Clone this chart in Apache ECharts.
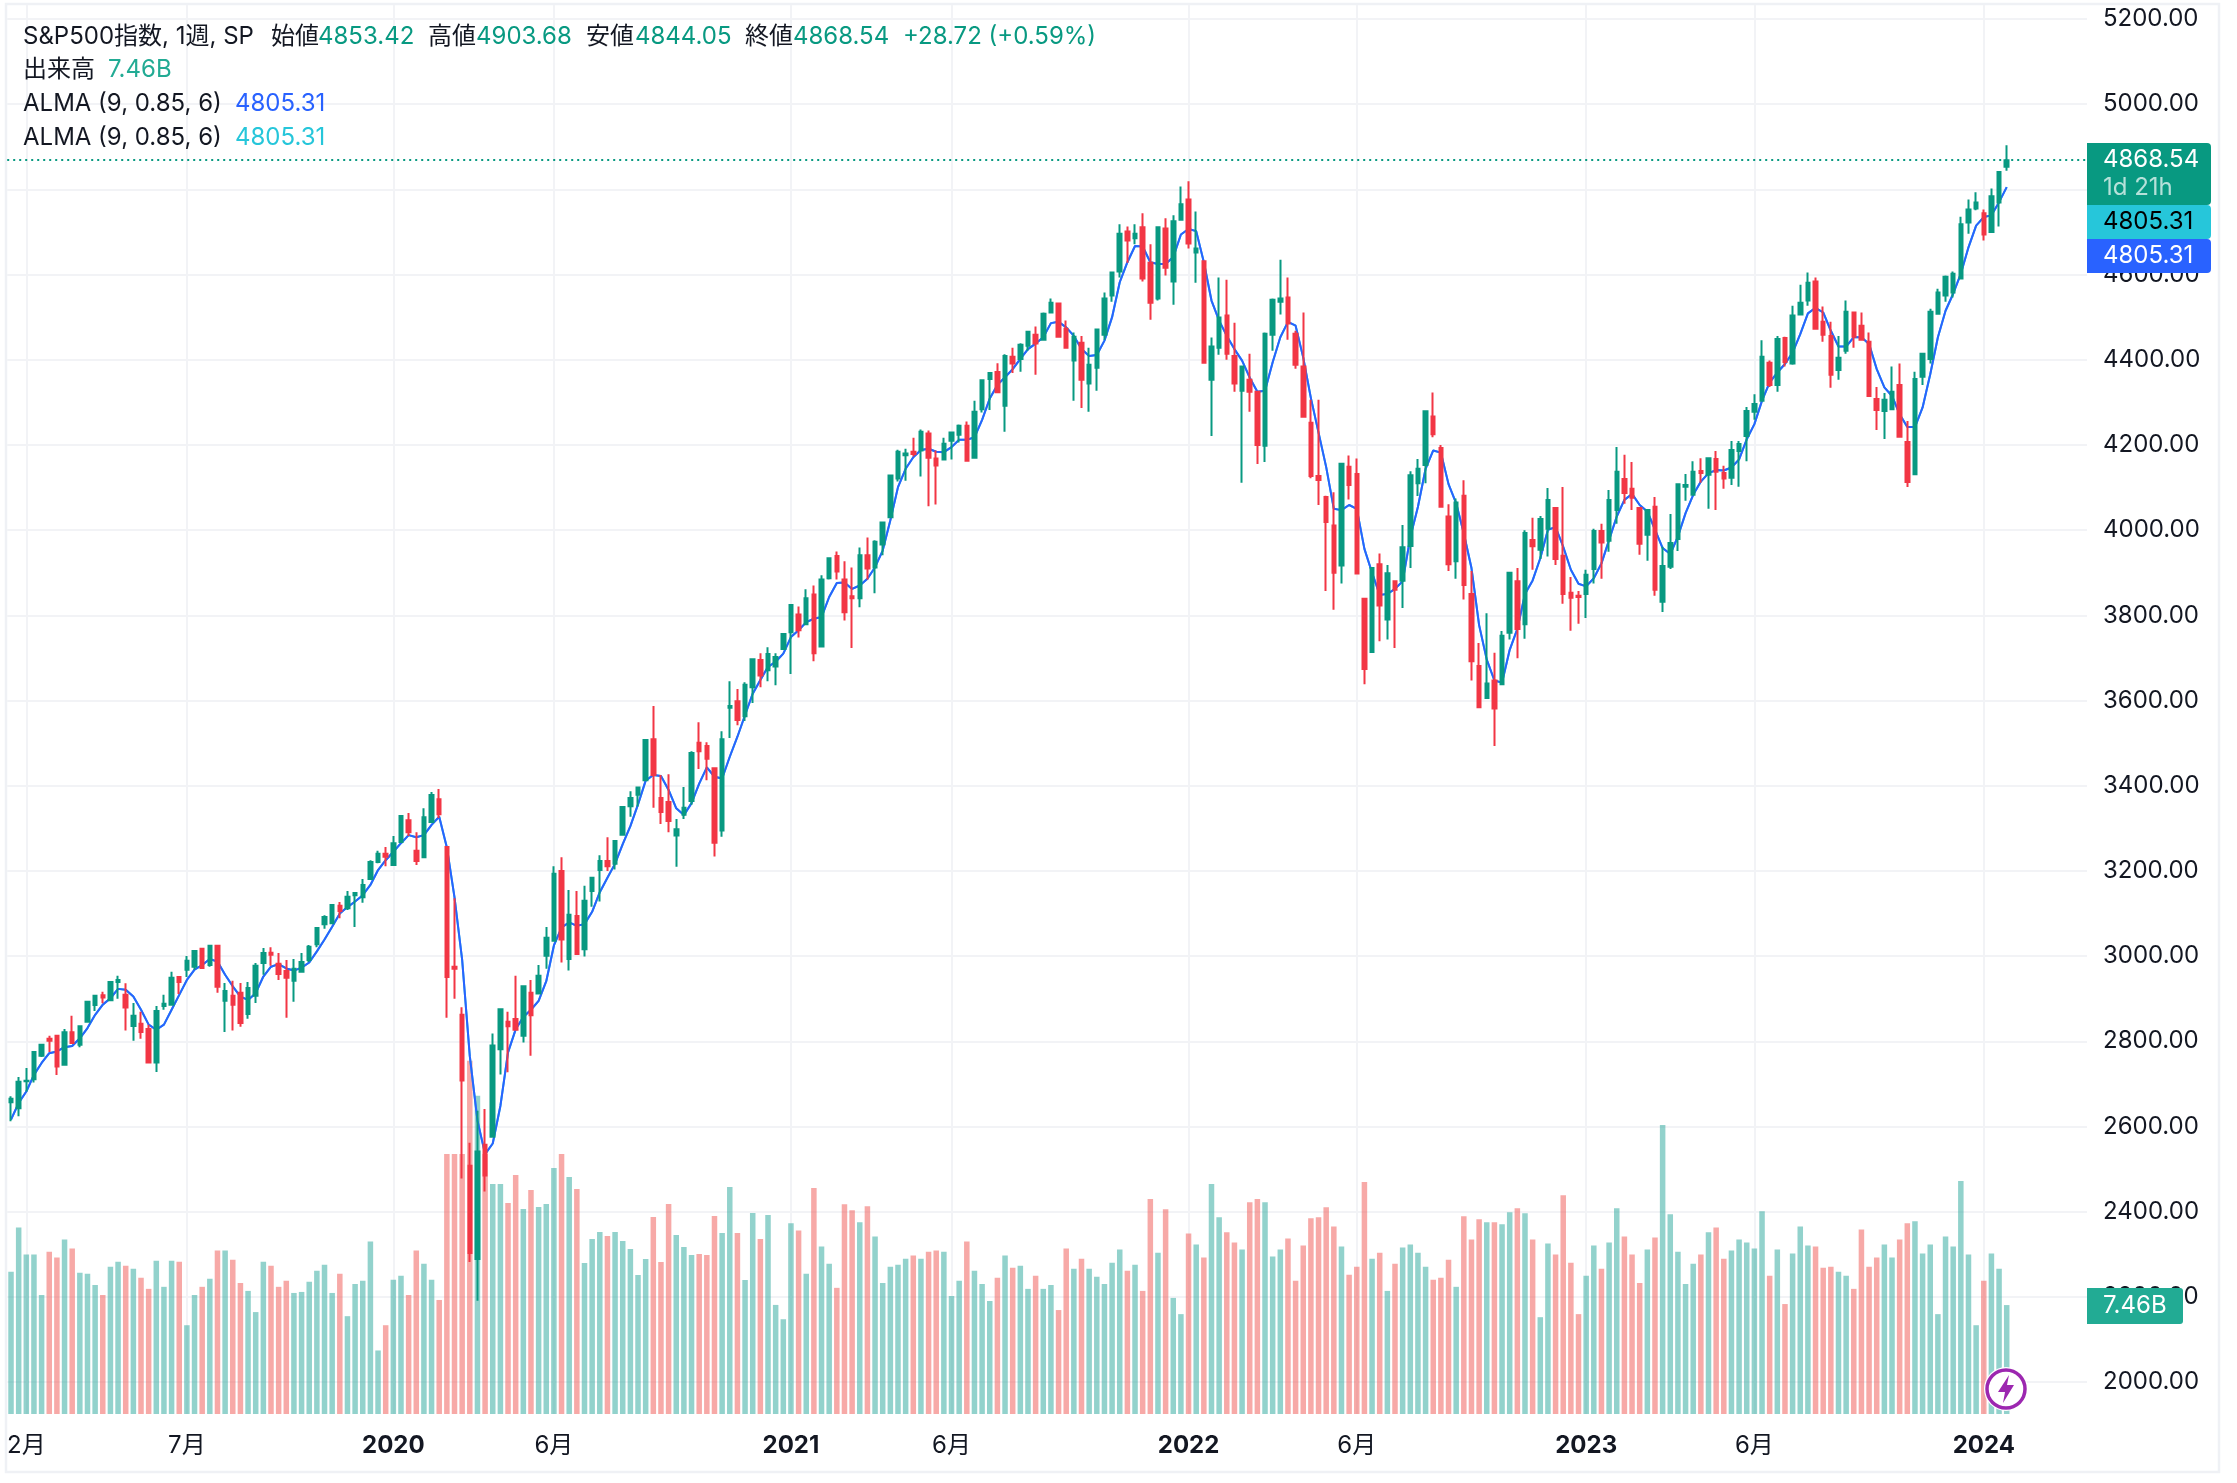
<!DOCTYPE html>
<html>
<head>
<meta charset="utf-8">
<title>S&P500</title>
<script src="https://cdn.jsdelivr.net/npm/echarts@6/dist/echarts.min.js"></script>
<style>
  html, body { margin: 0; padding: 0; background: #fff; }
  #main { width: 2237px; height: 1483px; }
</style>
</head>
<body>
<div id="main"></div>
<script>
// weekly bars, first week 2019-01-21, last week 2024-01-22
var opens = [2657,2643,2706,2711,2766,2806,2813,2745,2821,2792,2846,2885,2908,2896,2939,2909,2836,2841,2829,2750,
  2883,2886,2951,2968,2975,3017,2979,3024,2895,2907,2914,2864,2907,2984,3008,2982,2965,2942,2963,2991,
  3028,3075,3077,3118,3112,3143,3138,3181,3221,3240,3214,3268,3319,3247,3232,3315,3368,3256,2975,2862,
  2508,2289,2557,2576,2781,2846,2852,2813,2914,2912,3001,3036,3200,2993,3094,3016,3153,3202,3223,3217,
  3285,3352,3379,3413,3509,3371,3362,3283,3332,3364,3501,3493,3441,3295,3583,3598,3563,3631,3695,3671,
  3680,3721,3760,3802,3779,3849,3727,3887,3939,3884,3845,3840,3941,3912,3966,4030,4121,4176,4184,4187,
  4227,4168,4166,4210,4224,4245,4170,4284,4355,4371,4292,4407,4402,4433,4459,4447,4511,4532,4473,4398,
  4440,4344,4381,4459,4551,4607,4701,4685,4711,4628,4544,4708,4584,4729,4776,4652,4631,4353,4428,4504,
  4409,4327,4353,4325,4198,4459,4536,4546,4461,4384,4252,4127,4078,4011,3917,4149,4132,3839,3714,3920,
  3790,3880,3881,3963,4110,4153,4267,4193,4032,3927,4081,3850,3681,3606,3647,3638,3759,3880,3779,3977,
  3954,4003,4052,3940,3853,3846,3850,3909,3998,3975,4047,4120,4097,4052,3989,4055,3832,3914,3979,4102,
  4083,4139,4130,4167,4134,4123,4186,4221,4278,4304,4393,4341,4451,4391,4506,4539,4584,4489,4456,4376,
  4421,4511,4480,4442,4308,4280,4284,4341,4207,4131,4360,4402,4508,4551,4558,4591,4722,4755,4744,4700,
  4769,4853.42];
var highs = [2671,2716,2737,2775,2794,2813,2815,2829,2860,2836,2893,2909,2916,2939,2954,2936,2890,2869,2839,2883,
  2909,2963,2953,3000,3012,3017,3026,3024,2937,2942,2937,2939,2984,3019,3021,3007,2991,2993,3007,3026,
  3066,3096,3120,3127,3153,3148,3181,3225,3247,3256,3282,3329,3336,3291,3347,3385,3392,3256,3136,2880,
  2562,2637,2641,2818,2875,2869,2954,2930,2944,2979,3068,3211,3232,3155,3153,3165,3186,3237,3279,3270,
  3351,3387,3397,3507,3587,3425,3427,3322,3397,3481,3549,3502,3441,3528,3645,3627,3643,3697,3711,3725,
  3711,3757,3826,3821,3861,3870,3894,3936,3950,3927,3912,3959,3983,3976,4018,4128,4189,4191,4217,4236,
  4234,4187,4217,4231,4248,4255,4304,4354,4371,4392,4413,4428,4439,4466,4478,4511,4544,4532,4492,4464,
  4456,4428,4473,4558,4607,4718,4713,4718,4744,4671,4713,4732,4739,4807,4819,4748,4631,4452,4593,4588,
  4487,4384,4414,4325,4464,4544,4635,4593,4468,4511,4306,4306,4081,4089,4156,4175,4168,3839,3913,3945,
  3918,3880,4012,4138,4167,4279,4323,4200,4061,4074,4117,3904,3735,3805,3712,3763,3902,3911,4000,4029,
  4033,4099,4052,4101,3890,3857,3907,4003,4015,4094,4195,4177,4160,4052,4047,4078,3961,4038,4110,4132,
  4162,4169,4169,4186,4151,4209,4209,4289,4319,4446,4398,4456,4454,4527,4576,4605,4593,4525,4489,4456,
  4539,4511,4511,4464,4336,4322,4384,4391,4256,4372,4416,4520,4567,4598,4607,4736,4776,4793,4753,4802,
  4841,4903.68];
var lows = [2612,2624,2682,2703,2763,2775,2721,2745,2796,2786,2846,2871,2889,2896,2900,2825,2801,2806,2750,2728,
  2874,2886,2911,2951,2968,2972,2975,2914,2822,2825,2834,2853,2890,2956,2977,2944,2855,2893,2963,2986,
  3021,3064,3075,3089,3108,3068,3125,3181,3218,3211,3214,3268,3282,3214,3232,3315,3324,2855,2900,2478,
  2282,2191,2447,2576,2722,2727,2827,2797,2766,2912,2970,3036,2985,2966,3004,2999,3116,3128,3200,3203,
  3285,3327,3351,3411,3348,3310,3291,3210,3322,3355,3439,3413,3234,3280,3512,3542,3552,3594,3631,3645,
  3636,3721,3662,3748,3779,3692,3725,3884,3884,3788,3723,3819,3884,3852,3941,4030,4114,4116,4173,4126,
  4056,4060,4166,4166,4206,4163,4170,4276,4282,4324,4231,4369,4372,4421,4365,4447,4511,4454,4426,4304,
  4287,4278,4327,4447,4536,4593,4628,4671,4584,4494,4539,4598,4529,4729,4661,4581,4393,4221,4412,4400,
  4325,4111,4278,4155,4160,4421,4506,4447,4379,4266,4122,4059,3857,3813,3875,4072,3898,3638,3714,3739,
  3743,3723,3817,3911,4080,4110,4218,4055,3904,3886,3837,3647,3584,3605,3493,3638,3743,3699,3745,3907,
  3932,3938,3918,3827,3764,3780,3794,3875,3886,3949,4015,4062,4047,3942,3928,3846,3808,3909,3951,4069,
  4083,4111,4050,4047,4097,4106,4102,4162,4259,4304,4336,4325,4384,4388,4504,4527,4473,4442,4334,4353,
  4414,4428,4447,4315,4235,4214,4284,4219,4101,4129,4341,4391,4508,4536,4546,4591,4696,4751,4680,4699,
  4713,4844.05];
var closes = [2665,2705,2707,2775,2792,2801,2741,2821,2796,2835,2893,2907,2903,2939,2944,2879,2860,2822,2750,2871,
  2888,2949,2939,2989,3012,2972,3024,2928,2918,2886,2843,2925,2977,3007,3003,2958,2949,2970,2986,3022,
  3066,3092,3120,3106,3139,3148,3167,3221,3240,3233,3265,3329,3291,3223,3326,3378,3333,2951,2970,2708,
  2303,2541,2485,2790,2875,2835,2827,2929,2861,2954,3043,3193,3039,3097,3005,3130,3184,3223,3211,3270,
  3350,3371,3396,3507,3425,3338,3317,3298,3348,3477,3481,3463,3266,3509,3587,3554,3637,3697,3659,3709,
  3702,3756,3824,3765,3840,3711,3884,3934,3903,3807,3840,3941,3910,3973,4018,4128,4184,4180,4179,4231,
  4170,4152,4203,4229,4245,4163,4278,4352,4369,4324,4409,4391,4435,4466,4438,4508,4534,4454,4428,4454,
  4353,4388,4471,4544,4605,4696,4680,4696,4591,4534,4711,4616,4725,4765,4673,4661,4393,4431,4499,4414,
  4344,4384,4325,4200,4461,4541,4544,4485,4388,4266,4127,4118,4019,3900,4156,4106,3898,3674,3911,3823,
  3899,3860,3960,4129,4144,4279,4225,4055,3920,4065,3871,3692,3584,3640,3581,3752,3900,3768,3993,3962,
  4026,4071,3932,3850,3841,3843,3895,3998,3971,4071,4137,4087,4076,3968,4047,3860,3916,3970,4108,4106,
  4137,4134,4169,4137,4121,4188,4202,4280,4296,4407,4341,4449,4395,4504,4534,4581,4473,4459,4365,4405,
  4513,4454,4447,4315,4282,4306,4325,4219,4113,4355,4414,4513,4558,4595,4602,4718,4753,4769,4694,4784,
  4841,4868.54];
// weekly volume in billions
var volumes = [9.74,12.78,10.92,10.92,8.15,11.12,10.71,11.95,11.33,9.67,9.6,8.84,8.15,10.09,10.43,10.16,9.95,9.33,8.57,10.5,
  8.71,10.5,10.43,6.08,8.15,8.71,9.26,11.19,11.19,10.57,8.98,8.43,6.98,10.43,10.16,8.71,9.12,8.29,8.36,9.05,
  9.81,10.23,8.29,9.6,6.7,8.91,9.12,11.81,4.35,6.08,9.19,9.47,8.15,11.19,10.29,9.19,7.81,17.8,17.8,17.8,
  24.2,21.8,17.8,15.76,15.76,14.45,16.37,14.04,15.34,14.18,14.39,16.85,17.8,16.23,15.41,10.34,11.99,12.47,12.19,12.47,
  11.85,11.3,9.52,10.62,13.49,10.41,14.39,12.26,11.44,10.89,10.96,10.89,13.56,12.4,15.55,12.4,9.18,13.77,11.99,13.63,
  7.47,6.49,13.06,12.57,9.6,15.48,11.47,10.29,8.64,14.37,13.96,13.13,14.23,12.16,8.98,10.09,10.23,10.64,10.85,10.64,
  11.12,11.19,11.12,8.08,9.12,11.81,9.81,8.91,7.74,9.33,10.85,10.02,10.16,8.57,9.47,8.57,8.84,7.12,11.33,9.95,
  10.64,9.95,9.4,8.91,10.36,11.26,9.81,10.23,8.43,14.72,11.05,14.03,7.95,6.84,12.37,11.61,10.71,15.75,13.47,12.44,
  11.75,11.26,14.51,14.72,14.51,10.78,11.26,12.02,9.12,11.54,13.4,13.47,14.16,12.85,11.47,9.53,10.09,15.89,10.64,11.05,
  8.43,10.29,11.4,11.61,11.05,10.09,9.19,9.33,10.57,8.71,13.54,11.95,13.33,13.13,13.13,12.99,13.82,14.09,13.75,11.95,
  6.63,11.68,10.92,14.99,10.36,6.84,9.47,11.54,9.95,11.75,14.09,12.16,10.92,8.98,11.26,12.09,19.8,13.68,11.12,8.91,
  10.29,10.92,12.44,12.78,10.64,11.19,11.95,11.75,11.33,13.89,9.47,11.26,7.53,10.99,12.85,11.54,11.47,10.02,10.09,9.74,
  9.47,8.57,12.64,10.09,10.71,11.61,10.71,11.95,13.06,13.2,10.99,11.61,6.84,12.16,11.47,15.96,10.92,6.08,9.12,10.99,
  9.95,7.46];
var alma = [2616,2655,2682,2721,2749,2772,2776,2786,2789,2807,2831,2862,2886,2901,2923,2921,2905,2874,2839,2827,
  2839,2874,2909,2944,2968,2979,2993,2987,2956,2929,2905,2897,2913,2952,2975,2981,2971,2966,2973,2985,
  3011,3039,3069,3100,3115,3128,3143,3167,3202,3225,3245,3265,3284,3279,3284,3308,3327,3255,3138,2991,
  2765,2614,2535,2560,2648,2774,2828,2857,2874,2895,2941,3025,3067,3079,3071,3075,3104,3150,3184,3217,
  3263,3305,3356,3412,3425,3423,3390,3347,3331,3359,3405,3443,3421,3417,3468,3515,3566,3616,3648,3679,
  3691,3710,3749,3765,3784,3792,3796,3843,3876,3877,3862,3870,3886,3913,3952,4023,4101,4144,4171,4188,
  4191,4184,4183,4195,4212,4212,4218,4259,4309,4341,4359,4378,4402,4425,4438,4453,4486,4489,4476,4456,
  4425,4409,4411,4445,4500,4582,4629,4667,4666,4629,4625,4625,4641,4694,4707,4702,4629,4539,4492,4456,
  4425,4398,4358,4325,4327,4394,4453,4489,4480,4405,4310,4229,4148,4050,4047,4059,4050,3956,3900,3848,
  3850,3862,3880,3983,4055,4144,4187,4182,4108,4063,3992,3911,3777,3696,3647,3642,3719,3768,3850,3882,
  3934,4001,4007,3961,3907,3874,3868,3887,3922,3977,4032,4071,4085,4059,4044,4001,3958,3944,3985,4040,
  4083,4114,4134,4141,4140,4147,4166,4213,4249,4304,4347,4370,4390,4417,4460,4509,4522,4511,4468,4431,
  4431,4453,4453,4437,4378,4335,4315,4272,4242,4242,4288,4366,4453,4515,4555,4602,4664,4715,4735,4739,
  4770,4805.31];

var priceTicks = [2000,2200,2400,2600,2800,3000,3200,3400,3600,3800,4000,4200,4400,4600,4800,5000,5200];
var tickWeeks = ['2019-02-04','2019-07-01','2020-01-06','2020-06-01','2021-01-04','2021-05-31','2022-01-03','2022-06-06','2023-01-02','2023-06-05','2024-01-01'];
var tickTexts = ['2月','7月','2020','6月','2021','6月','2022','6月','2023','6月','2024'];

var FONT = 'Inter, "Noto Sans CJK JP", sans-serif';
var UP = '#089981', DOWN = '#F23645', INK = '#131722';
var GRIDLINE = '#F2F3F6';

// 10 empty weeks on the right side of the plot
var weeks = [];
for (var i = 0; i < 272; i++) {
    weeks.push(new Date(Date.UTC(2019, 0, 21 + i * 7)).toISOString().slice(0, 10));
}

var candleData = opens.map(function (o, k) {
    return [o, closes[k], lows[k], highs[k]];
});
var volumeData = volumes.map(function (v, k) {
    return {
        value: v,
        itemStyle: { color: closes[k] >= opens[k] ? 'rgba(38,166,154,0.5)' : 'rgba(239,83,80,0.5)' }
    };
});

function txt(x, y, text, fill, extra) {
    return {
        type: 'text', z: 100, silent: true,
        style: Object.assign({
            x: x, y: y, text: text, fill: fill, font: '24px ' + FONT, verticalAlign: 'middle'
        }, extra || {})
    };
}
function box(x, y, w, h, fill, r) {
    return { type: 'rect', z: 90, silent: true, shape: { x: x, y: y, width: w, height: h, r: r }, style: { fill: fill } };
}

var lastClose = closes[closes.length - 1];
var lastAlma = alma[alma.length - 1];

var graphics = [
    // pane frame
    { type: 'rect', z: 0, silent: true, shape: { x: 6, y: 4, width: 2213, height: 1468 },
      style: { fill: 'none', stroke: '#EFF1F5', lineWidth: 2.5 } },
    // header
    txt(23, 37, 'S&P500指数, 1週, SP', INK),
    txt(271, 37, '始値', INK), txt(318, 37, opens[261].toFixed(2), UP),
    txt(428, 37, '高値', INK), txt(476, 37, highs[261].toFixed(2), UP),
    txt(586, 37, '安値', INK), txt(635, 37, lows[261].toFixed(2), UP),
    txt(745, 37, '終値', INK), txt(793, 37, lastClose.toFixed(2), UP),
    txt(903, 37, '+28.72 (+0.59%)', UP),
    txt(23, 70, '出来高', INK), txt(108, 70, '7.46B', '#22AB94'),
    txt(23, 104, 'ALMA (9, 0.85, 6)', INK), txt(235, 104, lastAlma.toFixed(2), '#2962FF'),
    txt(23, 138, 'ALMA (9, 0.85, 6)', INK), txt(235, 138, lastAlma.toFixed(2), '#26C6DA'),
    // price scale tags
    box(2087, 143, 124, 62, UP, [0, 4, 4, 0]),
    txt(2103, 160, lastClose.toFixed(2), '#FFFFFF'),
    txt(2103, 188, '1d 21h', 'rgba(255,255,255,0.7)'),
    box(2087, 205, 124, 34, '#26C6DA', [0, 4, 4, 0]),
    txt(2103, 222, lastAlma.toFixed(2), '#000000'),
    box(2087, 239, 124, 34, '#2962FF', [0, 4, 4, 0]),
    txt(2103, 256, lastAlma.toFixed(2), '#FFFFFF'),
    box(2087, 1288, 96, 36, '#22AB94', [0, 3, 3, 0]),
    txt(2103, 1306, '7.46B', '#FFFFFF'),
    // lightning badge
    { type: 'circle', z: 95, silent: true, shape: { cx: 2006, cy: 1389, r: 22 }, style: { fill: '#FFFFFF' } },
    { type: 'circle', z: 96, silent: true, shape: { cx: 2006, cy: 1389, r: 19 }, style: { fill: '#FFFFFF', stroke: '#9C27B0', lineWidth: 3.5 } },
    { type: 'polygon', z: 97, silent: true, x: 2006, y: 1389,
      shape: { points: [[3, -14], [-8, 3], [-1, 3], [-3, 14], [8, -4], [1, -4]] }, style: { fill: '#9C27B0' } }
];

var chart = echarts.init(document.getElementById('main'), null, { renderer: 'canvas' });
chart.setOption({
    animation: false,
    backgroundColor: '#fff',
    textStyle: { fontFamily: FONT },
    grid: { left: 7.2, right: 150, top: 5, bottom: 69 },
    xAxis: {
        type: 'category',
        data: weeks,
        boundaryGap: true,
        axisLine: { show: false },
        axisTick: { show: false },
        splitLine: { show: false },
        axisLabel: {
            margin: 20,
            color: INK,
            fontSize: 24,
            fontFamily: FONT,
            hideOverlap: false,
            interval: function (index, value) { return tickWeeks.indexOf(value) >= 0; },
            formatter: function (value) {
                var t = tickTexts[tickWeeks.indexOf(value)];
                return /^\d{4}$/.test(t) ? '{year|' + t + '}' : t;
            },
            rich: { year: { fontSize: 24, fontWeight: 'bold', color: INK, fontFamily: FONT } }
        }
    },
    yAxis: [
        {
            type: 'value',
            position: 'right',
            min: 1924.9,
            max: 5232.9,
            axisLine: { show: false },
            axisTick: { show: false, customValues: priceTicks },
            splitLine: { show: true, lineStyle: { color: GRIDLINE, width: 2 } },
            axisLabel: {
                customValues: priceTicks,
                margin: 16,
                color: INK,
                fontSize: 24,
                fontFamily: FONT,
                formatter: function (v) { return v.toFixed(2); }
            }
        },
        { type: 'value', show: false, min: 0, max: 96.5, splitLine: { show: false } }
    ],
    series: [
        {
            name: '出来高',
            type: 'bar',
            yAxisIndex: 1,
            z: 1,
            barWidth: 5.5,
            data: volumeData,
            markLine: {
                silent: true,
                z: 0,
                symbol: 'none',
                label: { show: false },
                lineStyle: { color: GRIDLINE, width: 2, type: 'solid' },
                data: tickWeeks.map(function (w) { return { xAxis: w }; })
            }
        },
        {
            name: 'ALMA 2', type: 'line', data: alma, z: 2, showSymbol: false, smooth: false,
            lineStyle: { color: '#26C6DA', width: 2 }
        },
        {
            name: 'ALMA 1', type: 'line', data: alma, z: 2, showSymbol: false, smooth: false,
            lineStyle: { color: '#2962FF', width: 2 }
        },
        {
            name: 'S&P500',
            type: 'candlestick',
            z: 3,
            barWidth: 4,
            data: candleData,
            itemStyle: { color: UP, color0: DOWN, borderColor: UP, borderColor0: DOWN, borderWidth: 2 },
            markLine: {
                silent: true,
                symbol: 'none',
                label: { show: false },
                lineStyle: { color: UP, width: 2, type: [2, 4] },
                data: [{ yAxis: lastClose }]
            }
        }
    ],
    graphic: { elements: graphics }
});
</script>
</body>
</html>
